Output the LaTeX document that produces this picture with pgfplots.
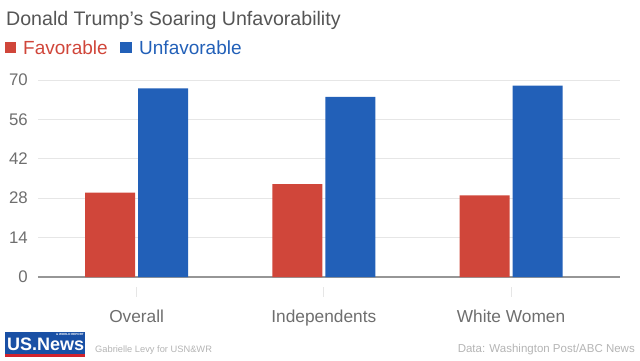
\documentclass[border=0pt]{standalone}
\usepackage{pgfplots}
\pgfplotsset{compat=1.18}
\usepackage{fontspec}
\setmainfont{Liberation Sans}
\definecolor{fav}{RGB}{208,70,58}
\definecolor{unfav}{RGB}{34,96,184}
\definecolor{ticktext}{RGB}{110,110,110}
\definecolor{titletext}{RGB}{85,85,85}
\definecolor{gridc}{RGB}{230,230,230}
\definecolor{zeroc}{RGB}{150,150,150}
\definecolor{footc}{RGB}{180,180,180}
\definecolor{logoblue}{RGB}{25,80,165}
\definecolor{logored}{RGB}{210,35,45}
\begin{document}
\begin{tikzpicture}[x=1pt,y=1pt]
\useasboundingbox (0,0) rectangle (640,360);
% title
\node[anchor=base west, inner sep=0pt, text=titletext, font=\fontsize{19.6}{20}\selectfont] at (6,334.5) {Donald Trump's Soaring Unfavorability};
% legend
\fill[fav] (5,307.3) rectangle (16,318.3);
\node[anchor=base west, inner sep=0pt, text=fav, font=\fontsize{19}{19}\selectfont] at (23,306) {Favorable};
\fill[unfav] (120,307.3) rectangle (131.5,318.3);
\node[anchor=base west, inner sep=0pt, text=unfav, font=\fontsize{19}{19}\selectfont] at (139,306) {Unfavorable};
\begin{axis}[
  at={(38pt,83pt)}, anchor=south west,
  scale only axis, width=582pt, height=197pt,
  ybar=3pt, bar width=50pt,
  xmin=-0.527, xmax=2.582, ymin=0, ymax=70,
  xtick={0,1,2}, xticklabels={Overall,Independents,White Women},
  ytick={14,28,42,56,70},
  extra y ticks={0},
  extra y tick style={grid style={draw=zeroc, line width=1.3pt}},
  ymajorgrids, grid style={draw=gridc, line width=1pt},
  axis line style={draw=none},
  major tick length=0pt,
  tick style={draw=none},
  /pgf/number format/assume math mode=true,
  yticklabel style={anchor=east, inner sep=0pt, xshift=-10pt, text=ticktext, font=\fontsize{16.8}{17}\selectfont},
  xticklabel style={anchor=base, inner sep=0pt, yshift=-45pt, text=ticktext, font=\fontsize{17.3}{18}\selectfont},
  clip=false,
]
\addplot[fill=fav, draw=none] coordinates {(0,30) (1,33) (2,29)};
\addplot[fill=unfav, draw=none] coordinates {(0,67) (1,64) (2,68)};
\foreach \c in {0,1,2} {
  \edef\tmp{\noexpand\draw[gridc, line width=1pt] ([yshift=-10pt]axis cs:\c,0) -- ([yshift=-20pt]axis cs:\c,0);}
  \tmp
}
\end{axis}
% footer
\fill[logored] (5,3) rectangle (85,6.5);
\fill[logoblue] (5,6.5) rectangle (85,28);
\node[anchor=base west, inner sep=0pt, text=white, font=\bfseries\fontsize{18}{18}\selectfont] at (7,9.5) {US.News};
\node[anchor=north east, inner sep=0pt, text=white, font=\bfseries\fontsize{3}{3}\selectfont] at (84,27) {\& WORLD REPORT};
\node[anchor=base west, inner sep=0pt, text=footc, font=\fontsize{9.3}{10}\selectfont] at (95,7.5) {Gabrielle Levy for USN\&WR};
\node[anchor=base east, inner sep=0pt, text=footc, font=\fontsize{11.5}{12}\selectfont] at (635,7.5) {Data: Washington Post/ABC News};
\end{tikzpicture}
\end{document}
